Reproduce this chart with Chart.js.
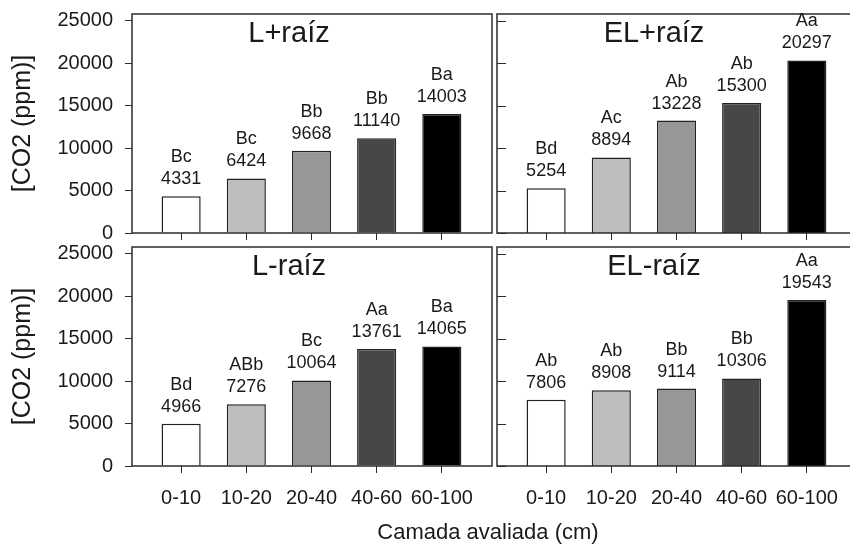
<!DOCTYPE html>
<html lang="pt">
<head>
    <meta charset="UTF-8">
    <title>CO2 por camada</title>
    <script src="https://cdn.jsdelivr.net/npm/chart.js"></script>
    <style>
        html, body {
            margin: 0;
            padding: 0;
            width: 850px;
            height: 545px;
            overflow: hidden;
            background: #fff;
        }

        canvas {
            position: absolute;
        }

        #xTitle {
            position: absolute;
            left: 488px;
            top: 519px;
            transform: translateX(-50%);
            font: 22px "Liberation Sans", Arial, sans-serif;
            line-height: 26px;
            color: #1a1a1a;
            white-space: nowrap;
        }
    </style>
</head>

<body>
    <canvas id="c1" width="494" height="245" style="left:0;top:0"></canvas>
    <canvas id="c2" width="366" height="245" style="left:494px;top:0"></canvas>
    <canvas id="c3" width="494" height="300" style="left:0;top:245px"></canvas>
    <canvas id="c4" width="366" height="300" style="left:494px;top:245px"></canvas>
    <div id="xTitle">Camada avaliada (cm)</div>

    <script>
        // dados
        const categories = ['0-10', '10-20', '20-40', '40-60', '60-100'];
        const yTicks = [0, 5000, 10000, 15000, 20000, 25000];
        const yMax = 25765;

        const lMaisRaiz = [4331, 6424, 9668, 11140, 14003];
        const lMaisLetras = ['Bc', 'Bc', 'Bb', 'Bb', 'Ba'];
        const elMaisRaiz = [5254, 8894, 13228, 15300, 20297];
        const elMaisLetras = ['Bd', 'Ac', 'Ab', 'Ab', 'Aa'];
        const lMenosRaiz = [4966, 7276, 10064, 13761, 14065];
        const lMenosLetras = ['Bd', 'ABb', 'Bc', 'Aa', 'Ba'];
        const elMenosRaiz = [7806, 8908, 9114, 10306, 19543];
        const elMenosLetras = ['Ab', 'Ab', 'Bb', 'Bb', 'Aa'];

        const barColors = ['#ffffff', '#bdbdbd', '#979797', '#474747', '#000000'];
        const FONT = '"Liberation Sans", Arial, sans-serif';
        const TEXT = '#1a1a1a';
        const LINE = '#2b2b2b';

        // moldura, titulo do painel e rotulos das barras
        const decor = {
            id: 'decor',
            afterDatasetsDraw(chart, args, opts) {
                const ctx = chart.ctx;
                const a = chart.chartArea;
                ctx.save();
                ctx.strokeStyle = LINE;
                ctx.lineWidth = 1.5;
                ctx.strokeRect(a.left, a.top, a.right - a.left, a.bottom - a.top);

                // ticks para dentro nos paineis da direita
                if (opts.inner) {
                    const y = chart.scales.y;
                    ctx.lineWidth = 1;
                    yTicks.forEach(v => {
                        const py = Math.round(y.getPixelForValue(v)) + 0.5;
                        ctx.beginPath();
                        ctx.moveTo(a.left, py);
                        ctx.lineTo(a.left + 9, py);
                        ctx.stroke();
                    });
                }

                ctx.fillStyle = TEXT;
                ctx.textAlign = 'center';
                ctx.textBaseline = 'middle';
                ctx.font = '29px ' + FONT;
                ctx.fillText(opts.title, a.left + 157, a.top + 20);

                ctx.font = '18px ' + FONT;
                const meta = chart.getDatasetMeta(0);
                const data = chart.data.datasets[0].data;
                meta.data.forEach((bar, i) => {
                    ctx.fillText(opts.letters[i], bar.x, bar.y - 39);
                    ctx.fillText(String(data[i].y), bar.x, bar.y - 17);
                });
                ctx.restore();
            }
        };

        function makeChart(id, values, letters, title, o) {
            return new Chart(document.getElementById(id), {
                type: 'bar',
                data: {
                    datasets: [{
                        data: values.map((v, i) => ({ x: i, y: v })),
                        backgroundColor: barColors,
                        borderColor: '#222',
                        borderWidth: 1.5,
                        categoryPercentage: 1,
                        barPercentage: 0.6
                    }]
                },
                options: {
                    responsive: false,
                    animation: false,
                    devicePixelRatio: 1,
                    layout: { padding: { top: o.padTop, right: o.padRight, left: 0, bottom: 0 } },
                    plugins: {
                        legend: { display: false },
                        tooltip: { enabled: false },
                        decor: { title: title, letters: letters, inner: !o.left }
                    },
                    scales: {
                        x: {
                            type: 'linear',
                            min: -0.754,
                            max: 4.77,
                            offset: false,
                            afterBuildTicks: s => { s.ticks = categories.map((c, i) => ({ value: i })); },
                            afterFit: s => {
                                s.height = o.xHeight;
                                s.paddingLeft = 0;
                                s.paddingRight = 0;
                            },
                            ticks: {
                                display: o.xLabels,
                                callback: v => categories[v],
                                font: { size: 20, family: FONT },
                                color: TEXT,
                                padding: 13,
                                maxRotation: 0,
                                autoSkip: false
                            },
                            grid: { offset: false, drawOnChartArea: false, tickLength: 7, color: LINE, lineWidth: 1 },
                            border: { display: false }
                        },
                        y: {
                            min: 0,
                            max: yMax,
                            afterBuildTicks: s => { s.ticks = yTicks.map(v => ({ value: v })); },
                            afterFit: s => {
                                s.width = o.left ? 132 : 3;
                                s.paddingTop = 0;
                                s.paddingBottom = 0;
                            },
                            ticks: {
                                display: o.left,
                                callback: v => String(v),
                                font: { size: 20, family: FONT },
                                color: TEXT,
                                padding: 12
                            },
                            grid: { display: o.left, drawOnChartArea: false, tickLength: 7, color: LINE, lineWidth: 1 },
                            border: { display: false },
                            title: {
                                display: o.left,
                                text: '[CO2 (ppm)]',
                                font: { size: 25, family: FONT },
                                color: TEXT,
                                padding: { top: 8, bottom: 0 }
                            }
                        }
                    }
                },
                plugins: [decor]
            });
        }

        makeChart('c1', lMaisRaiz, lMaisLetras, 'L+raíz', { left: true, padTop: 14, padRight: 2, xHeight: 12, xLabels: false });
        makeChart('c2', elMaisRaiz, elMaisLetras, 'EL+raíz', { left: false, padTop: 14, padRight: 3, xHeight: 12, xLabels: false });
        makeChart('c3', lMenosRaiz, lMenosLetras, 'L-raíz', { left: true, padTop: 2, padRight: 2, xHeight: 79, xLabels: true });
        makeChart('c4', elMenosRaiz, elMenosLetras, 'EL-raíz', { left: false, padTop: 2, padRight: 3, xHeight: 79, xLabels: true });
    </script>
</body>

</html>
